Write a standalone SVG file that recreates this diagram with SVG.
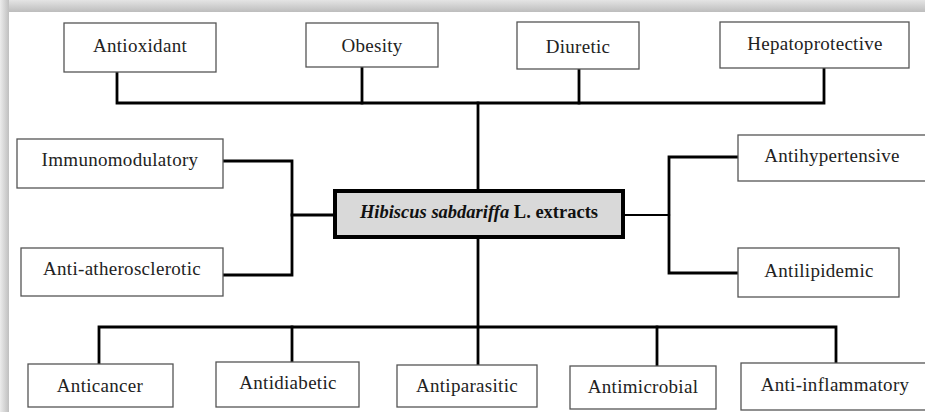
<svg xmlns="http://www.w3.org/2000/svg" width="925" height="412" viewBox="0 0 925 412">
<defs>
<linearGradient id="gTop" x1="0" y1="0" x2="0" y2="1">
<stop offset="0" stop-color="#e4e4e4"/>
<stop offset="1" stop-color="#bdbdbd"/>
</linearGradient>
<linearGradient id="gLeft" x1="0" y1="0" x2="1" y2="0">
<stop offset="0" stop-color="#ececec"/>
<stop offset="1" stop-color="#bfbfbf"/>
</linearGradient>
</defs>
<style>
.box{fill:#fff;stroke:#555;stroke-width:1.3}
.lbl{font-family:"Liberation Serif","Times New Roman",serif;font-size:19px;fill:#222;text-anchor:middle;letter-spacing:0.3px}
.conn{fill:none;stroke:#000;stroke-width:2.8;stroke-linejoin:miter;stroke-linecap:square}
.central{fill:#d9d9d9;stroke:#000;stroke-width:4}
.ctext{font-family:"Liberation Serif","Times New Roman",serif;font-size:18.5px;font-weight:bold;fill:#111;text-anchor:middle}
</style>
<rect x="0" y="0" width="925" height="412" fill="#fff"/>
<rect x="0" y="0" width="925" height="12" fill="url(#gTop)"/>
<rect x="0" y="0" width="9" height="412" fill="url(#gLeft)"/>

<g id="connectors">
<path class="conn" d="M117 72 V103 H824 V68"/>
<path class="conn" d="M362 67 V103"/>
<path class="conn" d="M579 69 V103"/>
<path class="conn" d="M478 103 V191"/>
<path class="conn" d="M223 161 H292 V275 H223"/>
<path class="conn" d="M292 215 H335"/>
<path class="conn" d="M623 215 H669" style="stroke-width:2.2"/>
<path class="conn" d="M738 157 H669 V273 H738"/>
<path class="conn" d="M478 237 V365"/>
<path class="conn" d="M99 363 V327 H836 V363"/>
<path class="conn" d="M292 327 V362"/>
<path class="conn" d="M657 327 V366"/>
</g>

<g id="antioxidant"><rect class="box" x="64" y="23" width="152" height="49"/><text class="lbl" x="140" y="52">Antioxidant</text></g>
<g id="obesity"><rect class="box" x="306" y="23" width="132" height="44"/><text class="lbl" x="372" y="52">Obesity</text></g>
<g id="diuretic"><rect class="box" x="517" y="22" width="122" height="47"/><text class="lbl" x="578" y="53">Diuretic</text></g>
<g id="hepatoprotective"><rect class="box" x="720" y="22" width="189" height="46"/><text class="lbl" x="815" y="50">Hepatoprotective</text></g>
<g id="immunomodulatory"><rect class="box" x="17" y="139" width="206" height="49"/><text class="lbl" x="120" y="166">Immunomodulatory</text></g>
<g id="antiatherosclerotic"><rect class="box" x="21" y="248" width="202" height="48"/><text class="lbl" x="122" y="275">Anti-atherosclerotic</text></g>
<g id="central"><rect class="central" x="335" y="191" width="288" height="46"/><text class="ctext" x="479" y="218"><tspan font-style="italic">Hibiscus sabdariffa</tspan> L. extracts</text></g>
<g id="antihypertensive"><rect class="box" x="738" y="135" width="200" height="46"/><text class="lbl" x="832" y="162">Antihypertensive</text></g>
<g id="antilipidemic"><rect class="box" x="738" y="248" width="161" height="49"/><text class="lbl" x="819" y="277">Antilipidemic</text></g>
<g id="anticancer"><rect class="box" x="28" y="364" width="145" height="43"/><text class="lbl" x="100" y="392">Anticancer</text></g>
<g id="antidiabetic"><rect class="box" x="216" y="362" width="143" height="45"/><text class="lbl" x="288" y="389">Antidiabetic</text></g>
<g id="antiparasitic"><rect class="box" x="397" y="365" width="140" height="42"/><text class="lbl" x="467" y="392">Antiparasitic</text></g>
<g id="antimicrobial"><rect class="box" x="570" y="366" width="146" height="43"/><text class="lbl" x="643" y="393">Antimicrobial</text></g>
<g id="antiinflammatory"><rect class="box" x="741" y="363" width="200" height="47"/><text class="lbl" x="835" y="391">Anti-inflammatory</text></g>
</svg>
